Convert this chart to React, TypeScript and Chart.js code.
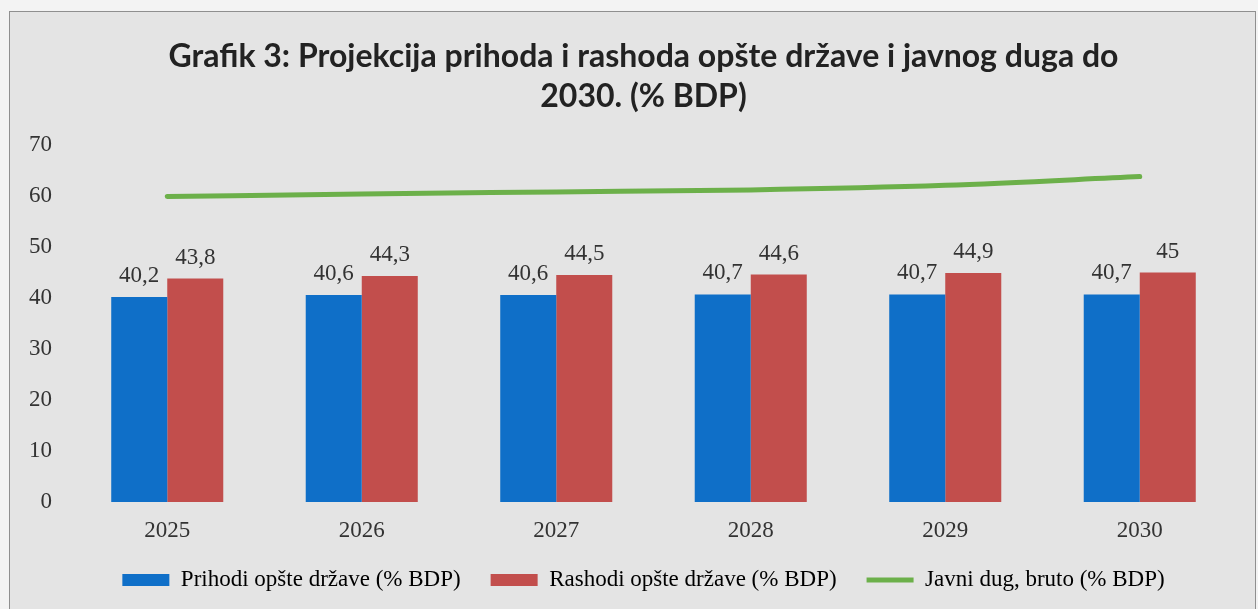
import React, { useEffect, useRef } from "react";
import { Chart, registerables } from "chart.js";

Chart.register(...registerables);

const categories = ["2025", "2026", "2027", "2028", "2029", "2030"];
const prihodi = [40.2, 40.6, 40.6, 40.7, 40.7, 40.7];
const rashodi = [43.8, 44.3, 44.5, 44.6, 44.9, 45];
const javniDug = [59.9, 60.4, 60.8, 61.2, 62.1, 63.8];
const yTicks = [0, 10, 20, 30, 40, 50, 60, 70];
const titleLines = [
  "Grafik 3: Projekcija prihoda i rashoda opšte države i javnog duga do",
  "2030. (% BDP)",
];
const seriesNames = [
  "Prihodi opšte države (% BDP)",
  "Rashodi opšte države (% BDP)",
  "Javni dug, bruto (% BDP)",
];

const SERIF = "'Liberation Serif', 'Times New Roman', serif";
const TEXT = "#333333";

const barLabels = {
  id: "barLabels",
  afterDatasetsDraw(chart: any) {
    const ctx = chart.ctx;
    ctx.save();
    ctx.font = `23px ${SERIF}`;
    ctx.fillStyle = TEXT;
    ctx.textAlign = "center";
    ctx.textBaseline = "middle";
    [0, 1].forEach((di) => {
      const meta = chart.getDatasetMeta(di);
      const data = chart.data.datasets[di].data as number[];
      meta.data.forEach((el: any, i: number) => {
        const txt = String(data[i]).replace(".", ",");
        ctx.fillText(txt, el.x, el.y - 21);
      });
    });
    ctx.restore();
  },
};

export default function App() {
  const ref = useRef<HTMLCanvasElement | null>(null);

  useEffect(() => {
    if (!ref.current) return;
    const chart = new Chart(ref.current, {
      data: {
        labels: categories,
        datasets: [
          {
            type: "bar",
            label: seriesNames[0],
            data: prihodi,
            backgroundColor: "#0f6fc8",
            categoryPercentage: 0.576,
            barPercentage: 1,
            order: 2,
          },
          {
            type: "bar",
            label: seriesNames[1],
            data: rashodi,
            backgroundColor: "#c24e4c",
            categoryPercentage: 0.576,
            barPercentage: 1,
            order: 2,
          },
          {
            type: "line",
            label: seriesNames[2],
            data: javniDug,
            borderColor: "#6cb04a",
            backgroundColor: "#6cb04a",
            borderWidth: 5,
            borderCapStyle: "round",
            cubicInterpolationMode: "monotone",
            pointRadius: 0,
            pointHoverRadius: 0,
            order: 1,
          },
        ],
      } as any,
      options: {
        responsive: false,
        maintainAspectRatio: false,
        animation: false,
        layout: { padding: { left: 40, right: 18, top: 0, bottom: 7.5 } },
        plugins: {
          tooltip: { enabled: false },
          title: {
            display: true,
            text: titleLines,
            color: "#222222",
            font: { family: "Lato, 'Open Sans', sans-serif", size: 32, weight: "bold", lineHeight: 40 / 32 },
            padding: { top: 25, bottom: 28 },
          },
          legend: {
            position: "bottom",
            labels: {
              color: TEXT,
              font: { family: SERIF, size: 23 },
              usePointStyle: true,
              pointStyleWidth: 47,
              boxHeight: 12,
              padding: 30,
              generateLabels: (c: any) =>
                c.data.datasets.map((ds: any, i: number) => ({
                  text: ds.label,
                  fillStyle: i === 2 ? ds.borderColor : ds.backgroundColor,
                  strokeStyle: i === 2 ? ds.borderColor : ds.backgroundColor,
                  lineWidth: i === 2 ? 5 : 0,
                  pointStyle: i === 2 ? "line" : "rect",
                  datasetIndex: i,
                  hidden: false,
                })),
            },
          },
        },
        scales: {
          x: {
            grid: { display: false, drawTicks: false },
            border: { display: false },
            ticks: { color: TEXT, font: { family: SERIF, size: 23 }, padding: 15 },
            afterFit: (axis: any) => {
              axis.height = 36.5;
              axis._computeLabelArea = () => undefined;
            },
          },
          y: {
            min: 0,
            max: 70,
            afterBuildTicks: (axis: any) => {
              axis.ticks = yTicks.map((v) => ({ value: v }));
            },
            grid: { display: false, drawTicks: false },
            border: { display: false },
            ticks: { color: TEXT, font: { family: SERIF, size: 23 }, padding: 18 },
            afterFit: (axis: any) => {
              axis.width = 20;
              axis._computeLabelArea = () => undefined;
            },
          },
        },
      } as any,
      plugins: [barLabels],
    });
    return () => chart.destroy();
  }, []);

  return (
    <div
      style={{
        position: "fixed",
        left: 0,
        top: 0,
        width: 1258,
        height: 609,
        background: "#f3f3f3",
        overflow: "hidden",
      }}
    >
      <div
        style={{
          position: "absolute",
          left: 9,
          top: 11,
          width: 1245,
          height: 600,
          border: "1px solid #8f8f8f",
          background: "#e4e4e4",
        }}
      >
        <canvas ref={ref} width={1245} height={597} style={{ display: "block" }} />
      </div>
    </div>
  );
}
